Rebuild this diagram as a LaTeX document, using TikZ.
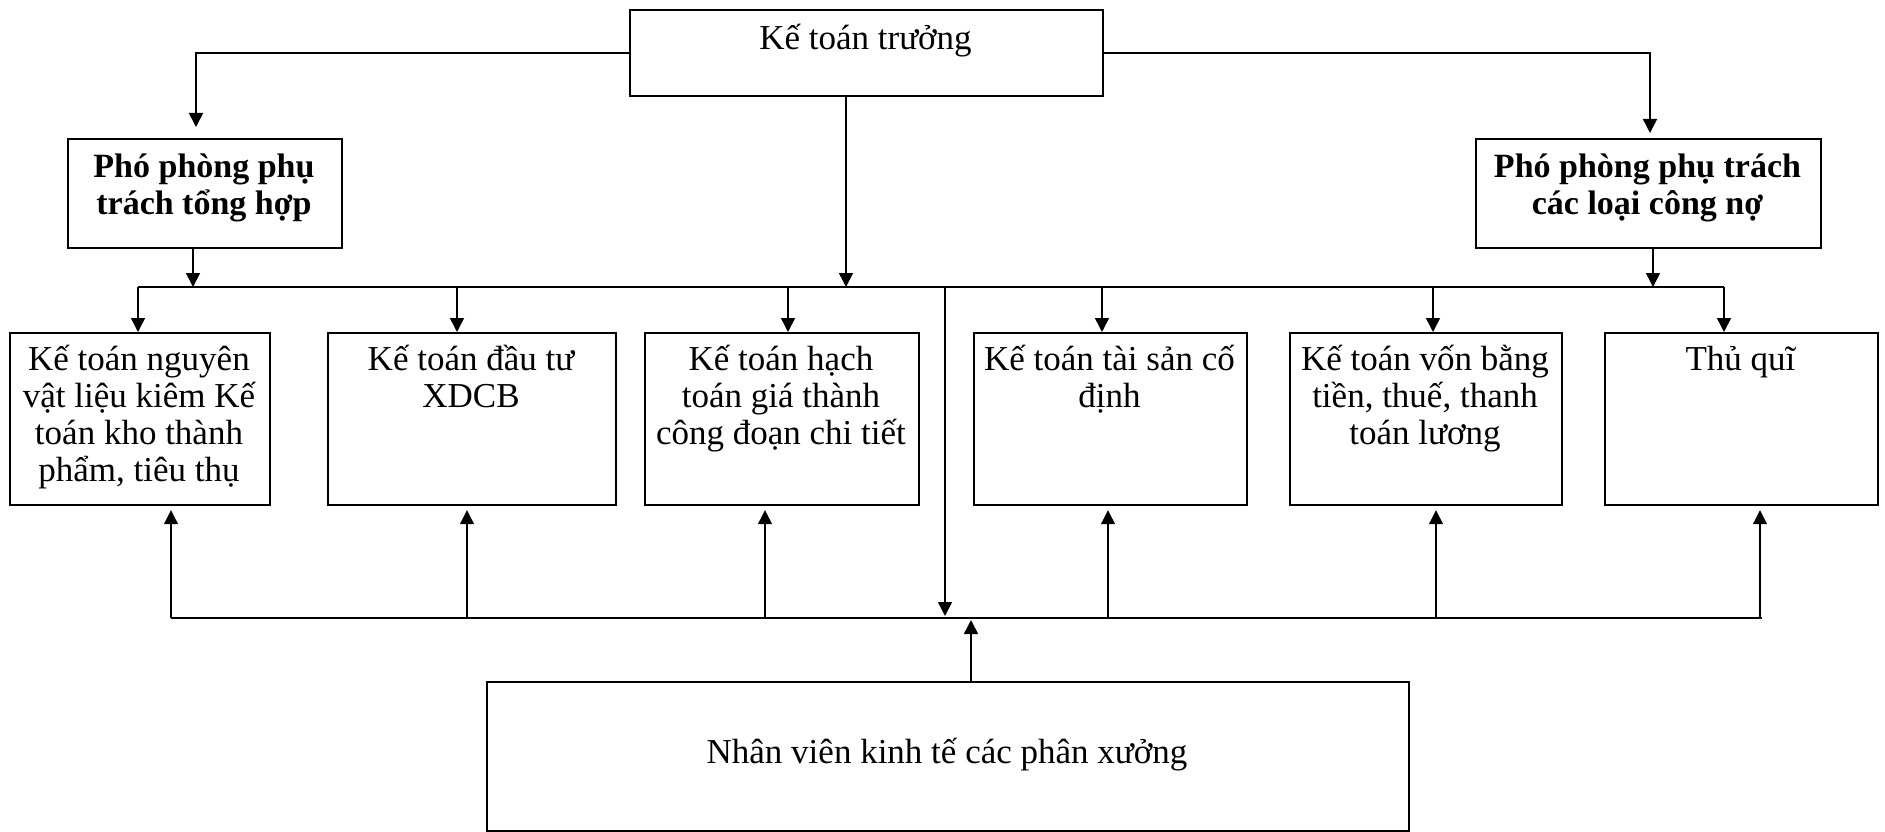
\documentclass[tikz,border=0pt]{standalone}
\usepackage{fontspec}
\setmainfont{Liberation Serif}
\usetikzlibrary{arrows.meta}
% centred lines whose reference point is the first baseline
\newcommand{\toplines}[1]{\begin{tabular}[t]{@{}c@{}}#1\end{tabular}}
\begin{document}
\begin{tikzpicture}[x=1pt,y=-1pt,
  box/.style={draw, line width=2.2pt, inner sep=0pt, anchor=north west},
  txt/.style={anchor=base, inner sep=0pt,
              font=\fontsize{35}{37}\selectfont},
  boldtxt/.style={txt, font=\fontsize{34}{37}\selectfont\bfseries},
  tip/.style={-{Triangle[length=14pt,width=14pt]}},
  conn/.style={tip, line width=1.6pt},
  upconn/.style={tip, line width=1.2pt},
  busline/.style={line width=2pt}]
\useasboundingbox (0,0) rectangle (1885,832);

% boxes
\node[box, minimum width=473pt, minimum height=86pt]  (kt) at (629,9) {};
\node[box, minimum width=274pt, minimum height=109pt] (pl) at (67,138) {};
\node[box, minimum width=345pt, minimum height=109pt] (pr) at (1475,138) {};
\node[box, minimum width=260pt, minimum height=172pt] (b1) at (9,332) {};
\node[box, minimum width=288pt, minimum height=172pt] (b2) at (327,332) {};
\node[box, minimum width=274pt, minimum height=172pt] (b3) at (644,332) {};
\node[box, minimum width=273pt, minimum height=172pt] (b4) at (973,332) {};
\node[box, minimum width=272pt, minimum height=172pt] (b5) at (1289,332) {};
\node[box, minimum width=273pt, minimum height=172pt] (b6) at (1604,332) {};
\node[box, minimum width=922pt, minimum height=149pt] (nv) at (486,681) {};

% box texts
\node[txt] (ktT) at (865.5,50) {Kế toán trưởng};
\node[boldtxt] (plT) at (204,178) {\toplines{Phó phòng phụ\\trách tổng hợp}};
\node[boldtxt] (prT) at (1647.5,178) {\toplines{Phó phòng phụ trách\\các loại công nợ}};
\node[txt] (b1T) at (139,370) {\toplines{Kế toán nguyên\\vật liệu kiêm Kế\\toán kho thành\\phẩm, tiêu thụ}};
\node[txt] (b2T) at (471,370) {\toplines{Kế toán đầu tư\\XDCB}};
\node[txt] (b3T) at (781,370) {\toplines{Kế toán hạch\\toán giá thành\\công đoạn chi tiết}};
\node[txt] (b4T) at (1109.5,370) {\toplines{Kế toán tài sản cố\\định}};
\node[txt] (b5T) at (1425,370) {\toplines{Kế toán vốn bằng\\tiền, thuế, thanh\\toán lương}};
\node[txt] (b6T) at (1740.5,370) {Thủ quĩ};
\node[txt] (nvT) at (947,763) {Nhân viên kinh tế các phân xưởng};

% junction points
\coordinate (lx) at (196,0);
\coordinate (rx) at (1650,0);
\coordinate (cx) at (846,0);
\coordinate (plx) at (193,0);
\coordinate (prx) at (1653,0);
\coordinate (busL) at (138,287);
\coordinate (busR) at (1724,287);
\coordinate (d2) at (457,287);
\coordinate (d3) at (788,287);
\coordinate (d4) at (1102,287);
\coordinate (d5) at (1433,287);
\coordinate (dv) at (945,287);
\coordinate (lowL) at (171,618);
\coordinate (lowR) at (1762,618);
\coordinate (u2) at (467,618);
\coordinate (u3) at (765,618);
\coordinate (u4) at (1108,618);
\coordinate (u5) at (1436,618);
\coordinate (u6) at (1760,618);
\coordinate (nvx) at (971,618);

% chief accountant to deputies
\draw[conn, shorten >=11pt] (kt.west) -| (lx |- pl.north);
\draw[conn, shorten >=5pt] (kt.east) -| (rx |- pr.north);

% upper distribution bus
\draw[busline] (busL) -- (busR);
\draw[conn] (cx |- kt.south) -- (cx |- busL);
\draw[conn] (plx |- pl.south) -- (plx |- busL);
\draw[conn] (prx |- pr.south) -- (prx |- busL);
\draw[conn] (busL) -- (busL |- b1.north);
\draw[conn] (d2) -- (d2 |- b2.north);
\draw[conn] (d3) -- (d3 |- b3.north);
\draw[conn] (d4) -- (d4 |- b4.north);
\draw[conn] (d5) -- (d5 |- b5.north);
\draw[conn] (busR) -- (busR |- b6.north);
\draw[conn, shorten >=2pt] (dv) -- (dv |- lowL);

% lower collection bus
\draw[busline] (lowL) -- (lowR);
\draw[upconn, shorten >=4pt] (lowL) -- (lowL |- b1.south);
\draw[upconn, shorten >=4pt] (u2) -- (u2 |- b2.south);
\draw[upconn, shorten >=4pt] (u3) -- (u3 |- b3.south);
\draw[upconn, shorten >=4pt] (u4) -- (u4 |- b4.south);
\draw[upconn, shorten >=4pt] (u5) -- (u5 |- b5.south);
\draw[upconn, shorten >=4pt] (u6) -- (u6 |- b6.south);
\draw[conn, shorten >=2pt] (nvx |- nv.north) -- (nvx);
\end{tikzpicture}
\end{document}
